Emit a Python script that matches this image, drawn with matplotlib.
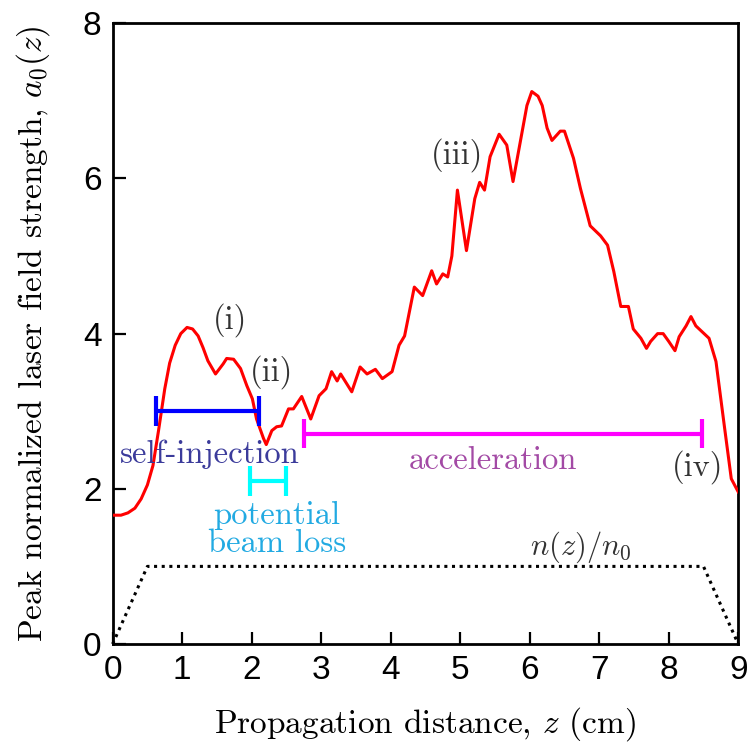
import numpy as np
import matplotlib
matplotlib.use("Agg")
import matplotlib.pyplot as plt

# --- data ---
z_a0 = [0.00, 0.12, 0.22, 0.32, 0.41, 0.50, 0.58, 0.66, 0.75, 0.82, 0.90, 0.98, 1.07,
        1.15, 1.23, 1.30, 1.37, 1.48, 1.59, 1.64, 1.74,
        1.84, 1.93, 2.01, 2.07, 2.17, 2.21, 2.29, 2.36, 2.43, 2.53, 2.60, 2.72, 2.85,
        2.97, 3.07, 3.15, 3.23, 3.28, 3.44, 3.56, 3.66, 3.78, 3.88, 4.02, 4.12, 4.20,
        4.34, 4.46, 4.59, 4.66, 4.75, 4.82, 4.88, 4.96, 5.09, 5.21, 5.28, 5.35, 5.43,
        5.56, 5.67, 5.76, 5.96, 6.03, 6.12, 6.18, 6.25, 6.32, 6.44, 6.50, 6.63, 6.73,
        6.87, 7.02, 7.12, 7.21, 7.31, 7.42, 7.49, 7.60, 7.68, 7.74, 7.84, 7.92, 8.00,
        8.09, 8.15, 8.25, 8.32, 8.39, 8.58, 8.68, 8.80, 8.90, 9.00]
a0 = [1.66, 1.66, 1.69, 1.75, 1.87, 2.05, 2.30, 2.75, 3.29, 3.62, 3.85, 4.00, 4.08,
      4.06, 3.97, 3.82, 3.65, 3.48, 3.61, 3.68, 3.67,
      3.55, 3.33, 3.16, 2.90, 2.65, 2.57, 2.75, 2.80, 2.81, 3.03, 3.03, 3.19, 2.90,
      3.20, 3.29, 3.51, 3.39, 3.48, 3.25, 3.57, 3.48, 3.54, 3.42, 3.51, 3.85, 3.97,
      4.60, 4.49, 4.81, 4.64, 4.77, 4.73, 5.00, 5.85, 5.07, 5.74, 5.95, 5.85, 6.28,
      6.57, 6.43, 5.96, 6.94, 7.12, 7.06, 6.94, 6.65, 6.49, 6.61, 6.61, 6.26, 5.87,
      5.39, 5.26, 5.14, 4.80, 4.35, 4.35, 4.06, 3.94, 3.81, 3.90, 4.00, 4.00, 3.90,
      3.78, 3.96, 4.10, 4.22, 4.10, 3.94, 3.64, 2.81, 2.13, 1.96]

z_dens = [0.0, 0.5, 8.5, 9.0]
dens = [0.0, 1.0, 1.0, 0.0]

# regions: (z_start, z_end, height)
self_inj = (0.63, 2.10, 3.00)
beam_loss = (1.98, 2.50, 2.10)
accel = (2.75, 8.48, 2.71)

plt.rcParams['mathtext.fontset'] = 'cm'
serif = ['cmr10', 'DejaVu Serif']

fig = plt.figure(figsize=(7.51, 7.51), dpi=100)
ax = fig.add_axes([0.150, 0.1425, 0.833, 0.8265])

ax.plot(z_a0, a0, color='red', lw=2.2, zorder=3)
ax.plot(z_dens, dens, color='black', ls=(0, (1, 1.5)), lw=2.2, clip_on=False)


def bracket(r, color):
    x0, x1, y = r
    ax.plot([x0, x1], [y, y], color=color, lw=3.0, zorder=4, solid_capstyle='butt')
    for x in (x0, x1):
        ax.plot([x, x], [y - 0.19, y + 0.19], color=color, lw=3.0, zorder=4,
                solid_capstyle='butt')


bracket(self_inj, 'blue')
bracket(beam_loss, 'cyan')
bracket(accel, 'magenta')

fs = 23.5
gray = '#333333'
ax.text(1.69, 4.17, '(i)', family=serif, fontsize=fs, color=gray, ha='center', va='center')
ax.text(2.29, 3.50, '(ii)', family=serif, fontsize=fs, color=gray, ha='center', va='center')
ax.text(4.95, 6.30, '(iii)', family=serif, fontsize=fs, color=gray, ha='center', va='center')
ax.text(8.42, 2.28, '(iv)', family=serif, fontsize=fs, color=gray, ha='center', va='center')
ax.text(1.40, 2.45, 'self-injection', family=serif, fontsize=fs, color='#3b3b9b',
        ha='center', va='center')
ax.text(2.36, 1.48, 'potential\nbeam loss', family=serif, fontsize=fs, color='#22aae2',
        ha='center', va='center', linespacing=0.95)
ax.text(5.47, 2.37, 'acceleration', family=serif, fontsize=fs, color='#a34aa5',
        ha='center', va='center')
ax.text(6.74, 1.25, r'$n(z)/n_0$', fontsize=22, color=gray, ha='center', va='center')

ax.set_xlim(0, 9)
ax.set_ylim(0, 8)
ax.set_xticks(range(0, 10))
ax.set_yticks(range(0, 9, 2))
ax.tick_params(direction='in', length=9, width=1.6, labelsize=24, pad=8)
for lab in ax.get_xticklabels() + ax.get_yticklabels():
    lab.set_family(['Liberation Sans', 'DejaVu Sans'])
for s in ax.spines.values():
    s.set_linewidth(2.0)

ax.set_xlabel(r'Propagation distance, $z$ (cm)', family=serif, fontsize=24, labelpad=14)
ax.set_ylabel(r'Peak normalized laser field strength, $a_0(z)$', family=serif,
              fontsize=24, labelpad=22)

fig.savefig('out.png', dpi=100)
